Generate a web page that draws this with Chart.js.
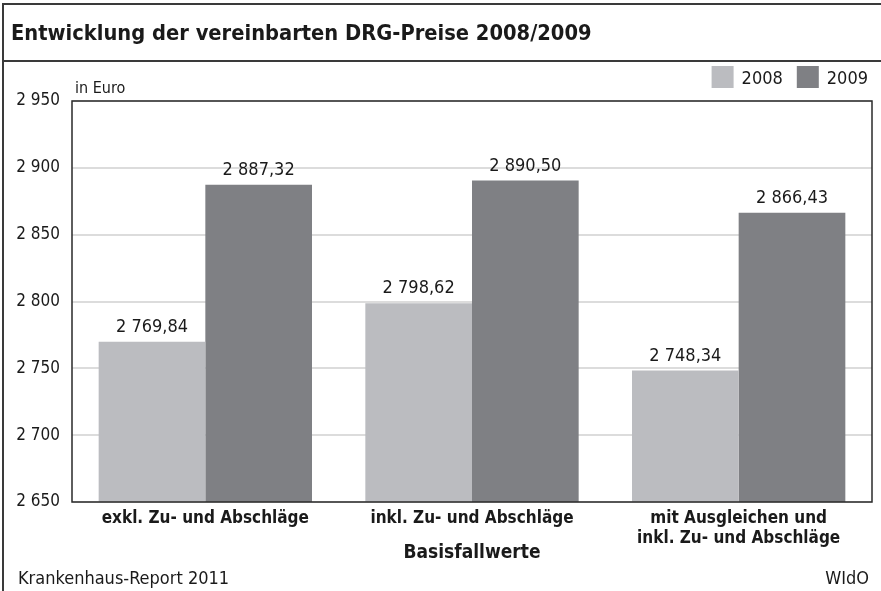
<!DOCTYPE html>
<html>
<head>
<meta charset="utf-8">
<script src="https://cdn.jsdelivr.net/npm/chart.js@4"></script>
<style>
  html, body { margin: 0; padding: 0; background: #fff; }
  #wrap { width: 881px; height: 591px; position: relative; }
</style>
</head>
<body>
<div id="wrap"><canvas id="drgChart" width="881" height="591"></canvas></div>
<script>
// Data
const categories = [
    'exkl. Zu- und Abschläge',
    'inkl. Zu- und Abschläge',
    ['mit Ausgleichen und', 'inkl. Zu- und Abschläge']
];
const series2008 = [2769.84, 2798.62, 2748.34];
const series2009 = [2887.32, 2890.50, 2866.43];
const seriesLabels = ['2008', '2009'];
const yMin = 2650;
const yMax = 2950;
const yStep = 50;

const FONT = "'Liberation Sans Narrow', 'DejaVu Sans Condensed', 'Liberation Sans', sans-serif";
const INK = '#1a1a1a';

// "2769.84" -> "2 769,84"
function fmtDe(v, dec) {
    const parts = v.toFixed(dec).split('.');
    const intPart = parts[0].replace(/\B(?=(\d{3})+(?!\d))/g, ' ');
    return parts.length > 1 ? intPart + ',' + parts[1] : intPart;
}

// Frame, title, legend, labels and footer
const decorPlugin = {
    id: 'decor',
    afterDraw(chart) {
        const c = chart.ctx;
        const a = chart.chartArea;
        c.save();

        // outer frame lines + title separator
        c.strokeStyle = '#3a3a3a';
        c.lineWidth = 2;
        c.beginPath();
        c.moveTo(3, 591); c.lineTo(3, 4); c.lineTo(881, 4);
        c.moveTo(3, 61); c.lineTo(881, 61);
        c.stroke();

        // title
        c.fillStyle = INK;
        c.font = "bold 21.7px " + FONT;
        c.textAlign = 'left';
        c.textBaseline = 'alphabetic';
        c.fillText('Entwicklung der vereinbarten DRG-Preise 2008/2009', 11, 40);

        // plot box
        c.strokeStyle = '#2a2a2a';
        c.lineWidth = 1.5;
        c.strokeRect(a.left, a.top, a.right - a.left, a.bottom - a.top);

        // unit
        c.font = "16px " + FONT;
        c.fillText('in Euro', 75, 93);

        // legend (right aligned, from dataset colours)
        c.font = "18px " + FONT;
        let x = 868;
        const ds = chart.data.datasets;
        for (let i = ds.length - 1; i >= 0; i--) {
            const w = c.measureText(ds[i].label).width;
            x -= w;
            c.fillStyle = INK;
            c.fillText(ds[i].label, x, 84);
            x -= 8 + 22;
            c.fillStyle = ds[i].backgroundColor;
            c.fillRect(x, 66, 22, 22);
            x -= 14;
        }

        // value labels above bars
        c.fillStyle = INK;
        c.font = "18px " + FONT;
        c.textAlign = 'center';
        ds.forEach((d, di) => {
            chart.getDatasetMeta(di).data.forEach((bar, i) => {
                c.fillText(fmtDe(d.data[i], 2), bar.x, bar.y - 10);
            });
        });

        // axis title
        c.font = "bold 19px " + FONT;
        c.fillText('Basisfallwerte', (a.left + a.right) / 2, 558);

        // footer
        c.font = "18px " + FONT;
        c.textAlign = 'left';
        c.fillText('Krankenhaus-Report 2011', 18, 584);
        c.textAlign = 'right';
        c.fillText('WIdO', 869, 584);

        c.restore();
    }
};

new Chart(document.getElementById('drgChart'), {
    type: 'bar',
    data: {
        labels: categories,
        datasets: [
            { label: seriesLabels[0], data: series2008, backgroundColor: '#bbbcc0' },
            { label: seriesLabels[1], data: series2009, backgroundColor: '#7f8084' }
        ]
    },
    options: {
        responsive: false,
        animation: false,
        devicePixelRatio: 1,
        layout: { padding: { left: 0, right: 9, top: 101, bottom: 0 } },
        datasets: { bar: { categoryPercentage: 0.8, barPercentage: 1.0 } },
        plugins: {
            legend: { display: false },
            tooltip: { enabled: false }
        },
        scales: {
            x: {
                grid: { display: false, drawTicks: false },
                border: { display: false },
                ticks: {
                    color: INK,
                    font: { family: FONT, size: 17, weight: 'bold', lineHeight: 1.2 },
                    padding: 6,
                    maxRotation: 0,
                    autoSkip: false
                },
                afterFit(scale) { scale.height = 89; }
            },
            y: {
                min: yMin,
                max: yMax,
                grid: { color: '#dcdcdc', lineWidth: 2, drawTicks: false },
                border: { display: false },
                ticks: {
                    stepSize: yStep,
                    color: INK,
                    font: { family: FONT, size: 17 },
                    padding: 12,
                    callback: v => fmtDe(v, 0)
                },
                afterFit(scale) { scale.width = 72; }
            }
        }
    },
    plugins: [decorPlugin]
});
</script>
</body>
</html>
